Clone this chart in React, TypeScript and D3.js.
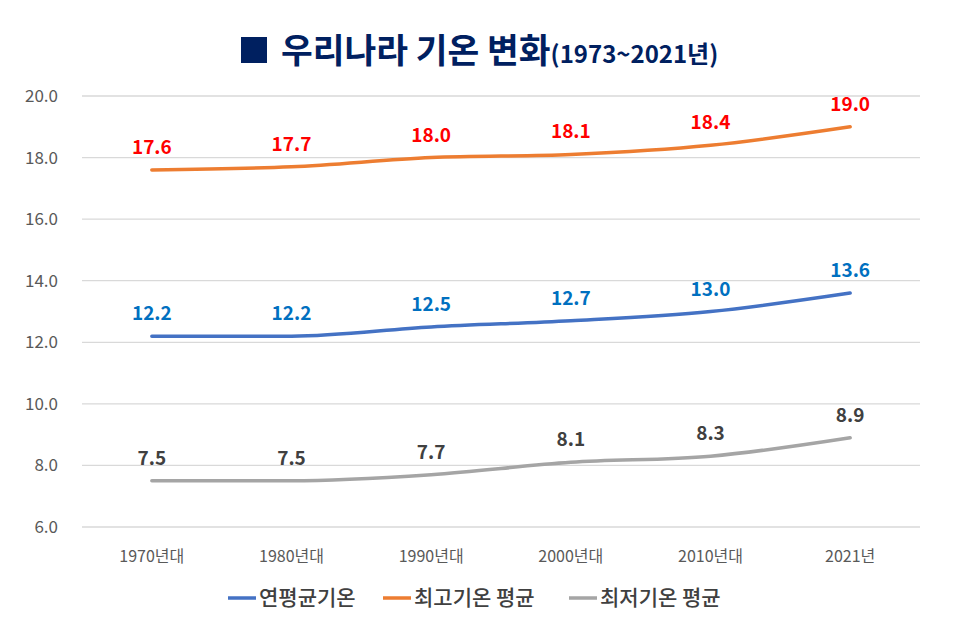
import React from "react";
import * as d3 from "d3";

const categories = ["1970년대", "1980년대", "1990년대", "2000년대", "2010년대", "2021년"];
const avgTemp = [12.2, 12.2, 12.5, 12.7, 13.0, 13.6];
const maxTemp = [17.6, 17.7, 18.0, 18.1, 18.4, 19.0];
const minTemp = [7.5, 7.5, 7.7, 8.1, 8.3, 8.9];
const yTicks = [6, 8, 10, 12, 14, 16, 18, 20];

const series = [
  { name: "연평균기온", values: avgTemp, color: "#4472C4", label: "#0070C0" },
  { name: "최고기온 평균", values: maxTemp, color: "#ED7D31", label: "#FF0000" },
  { name: "최저기온 평균", values: minTemp, color: "#A5A5A5", label: "#404040" },
];

const W = 970;
const H = 625;
const left = 82;
const right = 920;
const top = 96;
const bottom = 527;
const font = "'Noto Sans CJK KR', 'Noto Sans', sans-serif";

export default function App() {
  const x = d3.scaleBand<string>().domain(categories).range([left, right]);
  const y = d3.scaleLinear().domain([6, 20]).range([bottom, top]);
  const cx = (c: string) => (x(c) as number) + x.bandwidth() / 2;
  const line = d3
    .line<number>()
    .x((_, i) => cx(categories[i]))
    .y((d) => y(d))
    .curve(d3.curveMonotoneX);

  const legendX = [228, 383, 569];

  return (
    <svg
      width={W}
      height={H}
      style={{ position: "absolute", left: 0, top: 0, background: "#fff" }}
      fontFamily={font}
    >
      <rect width={W} height={H} fill="#fff" />
      {/* title */}
      <rect x={241} y={37} width={26} height={26} fill="#002060" />
      <text x={281} y={63} fill="#002060" fontWeight={700} fontSize={34.5}>
        우리나라 기온 변화
        <tspan fontSize={24}>(1973~2021년)</tspan>
      </text>

      {/* grid */}
      {yTicks.map((t) => (
        <g key={t}>
          <line x1={left} x2={right} y1={y(t)} y2={y(t)} stroke="#D9D9D9" strokeWidth={1.3} />
          <text
            x={58}
            y={y(t)}
            dy="0.35em"
            textAnchor="end"
            fontSize={17}
            fill="#595959"
          >
            {t.toFixed(1)}
          </text>
        </g>
      ))}

      {/* x labels */}
      {categories.map((c) => (
        <text key={c} x={cx(c)} y={562} textAnchor="middle" fontSize={16} fill="#595959">
          {c}
        </text>
      ))}

      {/* lines */}
      {series.map((s) => (
        <path
          key={s.name}
          d={line(s.values) as string}
          fill="none"
          stroke={s.color}
          strokeWidth={3.5}
          strokeLinecap="round"
        />
      ))}

      {/* data labels */}
      {series.map((s) =>
        s.values.map((v, i) => (
          <text
            key={s.name + i}
            x={cx(categories[i])}
            y={y(v) - 16}
            textAnchor="middle"
            fontSize={19}
            fontWeight={700}
            fill={s.label}
          >
            {v.toFixed(1)}
          </text>
        ))
      )}

      {/* legend */}
      {series.map((s, i) => (
        <g key={s.name} transform={`translate(${legendX[i]},598)`}>
          <line x1={0} x2={28} y1={0} y2={0} stroke={s.color} strokeWidth={3.5} />
          <text x={31} y={0} dy="0.35em" fontSize={21} fontWeight={500} fill="#404040">
            {s.name}
          </text>
        </g>
      ))}
    </svg>
  );
}
